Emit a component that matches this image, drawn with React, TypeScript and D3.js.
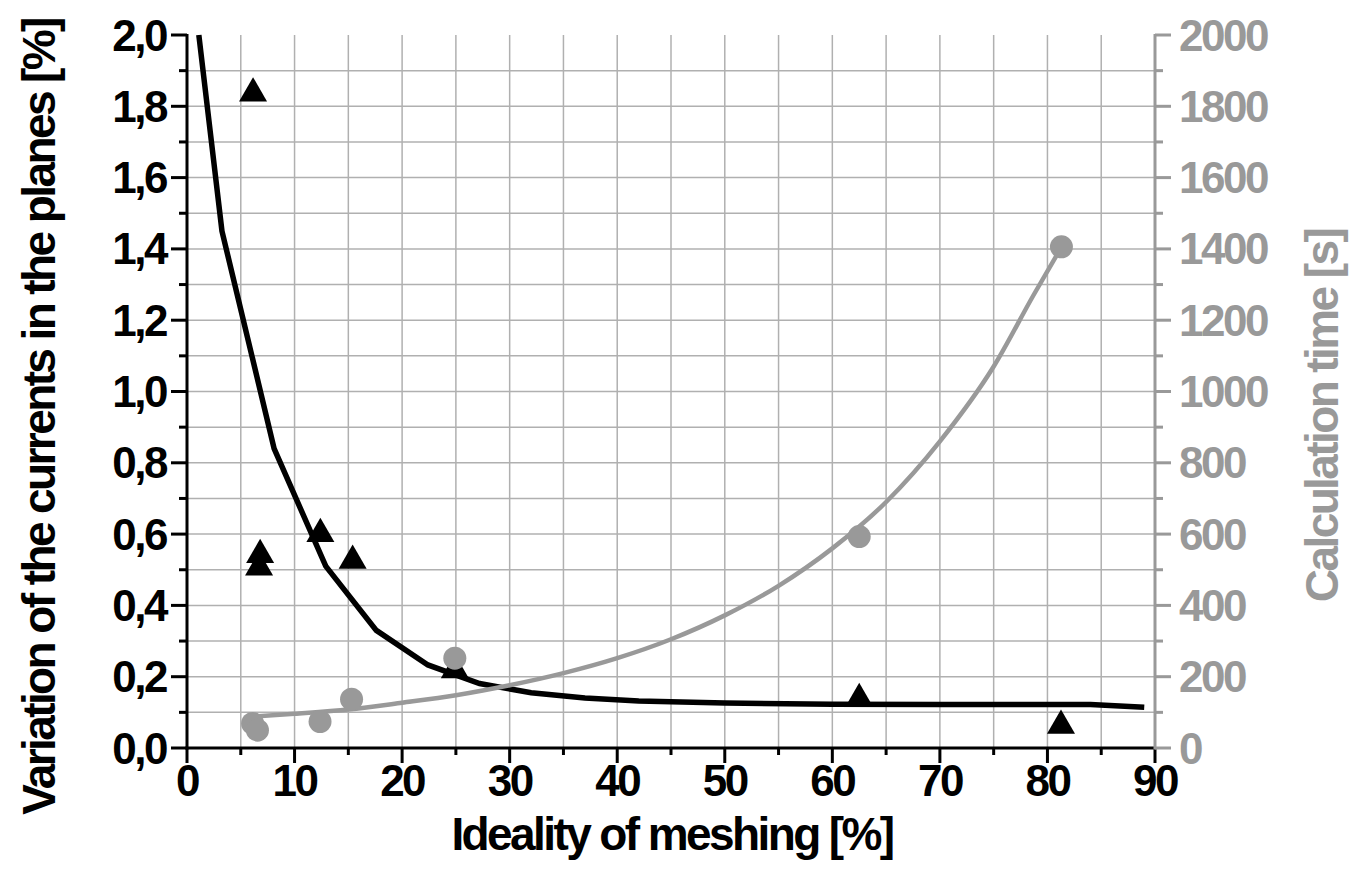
import React from "react";
import * as d3 from "d3";

// ---- data ----
const triX = [6.14, 6.8, 6.7, 12.4, 15.4, 24.9, 62.5, 81.26];
const triY = [1.842, 0.547, 0.512, 0.606, 0.531, 0.224, 0.143, 0.068];

const circX = [6.1, 6.55, 12.37, 15.3, 24.9, 62.5, 81.3];
const circY = [69, 50, 74, 137, 252, 593, 1406];

const fitBlackX = [1.1, 3.25, 8.1, 12.9, 17.6, 22.4, 27.2, 32, 37, 42, 50, 60, 70, 84, 89];
const fitBlackY = [2.0, 1.45, 0.84, 0.51, 0.33, 0.233, 0.181, 0.155, 0.14, 0.132, 0.126, 0.123, 0.122, 0.122, 0.114];

const fitGrayX = [6.1, 10, 15, 20, 25, 30, 35, 40, 45, 50, 55, 60, 65, 70, 75, 78.7, 81.3];
const fitGrayY = [88, 96, 108, 127, 148, 176, 210, 252, 305, 372, 455, 560, 690, 860, 1070, 1270, 1405];

const xTicks = [0, 10, 20, 30, 40, 50, 60, 70, 80, 90];
const yLeftTicks = [0, 0.2, 0.4, 0.6, 0.8, 1.0, 1.2, 1.4, 1.6, 1.8, 2.0];
const yRightTicks = [0, 200, 400, 600, 800, 1000, 1200, 1400, 1600, 1800, 2000];

const xTitle = "Ideality of meshing [%]";
const yLeftTitle = "Variation of the currents in the planes [%]";
const yRightTitle = "Calculation time [s]";

const W = 1353;
const H = 887;
const L = 187, R = 1155, T = 35, B = 748;
const GRAY = "#999999";
const GRID = "#b0b0b0";
const FONT = "'Liberation Sans', Arial, Helvetica, sans-serif";

export default function App() {
  const x = d3.scaleLinear().domain([0, 90]).range([L, R]);
  const yL = d3.scaleLinear().domain([0, 2]).range([B, T]);
  const yR = d3.scaleLinear().domain([0, 2000]).range([B, T]);

  const blackLine = d3
    .line<number>()
    .x((_, i) => x(fitBlackX[i]))
    .y((d) => yL(d))
    .curve(d3.curveLinear)(fitBlackY) as string;

  const grayLine = d3
    .line<number>()
    .x((_, i) => x(fitGrayX[i]))
    .y((d) => yR(d))
    .curve(d3.curveMonotoneX)(fitGrayY) as string;

  const vGrid = d3.range(5, 90, 5);
  const hGrid = d3.range(1, 20).map((v) => v / 10);
  const xMinor = d3.range(5, 90, 10);
  const yLMinor = d3.range(1, 20, 2).map((v) => v / 10);
  const yRMinor = d3.range(100, 2000, 200);

  const tri = d3.symbol().type(d3.symbolTriangle).size(340)() as string;

  const tickFont = { fontFamily: FONT, fontWeight: 700, fontSize: 44, letterSpacing: -2.5 } as const;
  const titleFont = { fontFamily: FONT, fontWeight: 700, fontSize: 46, letterSpacing: -2.6 } as const;

  return (
    <svg width={W} height={H} style={{ position: "absolute", left: 0, top: 0, background: "#fff" }}>
      <rect x={0} y={0} width={W} height={H} fill="#fff" />
      {/* grid */}
      <g stroke={GRID} strokeWidth={1.5}>
        {vGrid.map((v) => (
          <line key={"vg" + v} x1={x(v)} x2={x(v)} y1={T} y2={B} />
        ))}
        {hGrid.map((v) => (
          <line key={"hg" + v} x1={L} x2={R} y1={yL(v)} y2={yL(v)} />
        ))}
      </g>

      {/* black fit + triangles */}
      <path d={blackLine} fill="none" stroke="#000" strokeWidth={5.5} strokeLinejoin="miter" />
      {triX.map((v, i) => (
        <path key={"t" + i} d={tri} transform={`translate(${x(v)},${yL(triY[i]) + 2})`} fill="#000" />
      ))}

      {/* gray fit + circles */}
      <path d={grayLine} fill="none" stroke={GRAY} strokeWidth={4.5} />
      {circX.map((v, i) => (
        <circle key={"c" + i} cx={x(v)} cy={yR(circY[i])} r={11.5} fill={GRAY} />
      ))}

      {/* left axis */}
      <g stroke="#000" strokeWidth={3}>
        <line x1={L} x2={L} y1={T - 1} y2={B + 1.5} />
        {yLeftTicks.map((v) => (
          <line key={"ylt" + v} x1={L - 16} x2={L} y1={yL(v)} y2={yL(v)} />
        ))}
        {yLMinor.map((v) => (
          <line key={"ylm" + v} x1={L - 8} x2={L} y1={yL(v)} y2={yL(v)} />
        ))}
      </g>
      {yLeftTicks.map((v) => (
        <text key={"yll" + v} x={166} y={yL(v) + 15.5} textAnchor="end" {...tickFont} fill="#000">
          {d3.format(".1f")(v).replace(".", ",")}
        </text>
      ))}

      {/* bottom axis */}
      <g stroke="#000" strokeWidth={3}>
        <line x1={L - 1.5} x2={R} y1={B} y2={B} />
        {xTicks.map((v) => (
          <line key={"xt" + v} x1={x(v)} x2={x(v)} y1={B} y2={B + 15} />
        ))}
        {xMinor.map((v) => (
          <line key={"xm" + v} x1={x(v)} x2={x(v)} y1={B} y2={B + 7} />
        ))}
      </g>
      {xTicks.map((v) => (
        <text key={"xl" + v} x={x(v)} y={796} textAnchor="middle" {...tickFont} fill="#000">
          {v}
        </text>
      ))}

      {/* right axis */}
      <g stroke={GRAY} strokeWidth={3}>
        <line x1={R} x2={R} y1={T - 1} y2={B + 1.5} />
        {yRightTicks.map((v) => (
          <line key={"yrt" + v} x1={R} x2={R + 16} y1={yR(v)} y2={yR(v)} />
        ))}
        {yRMinor.map((v) => (
          <line key={"yrm" + v} x1={R} x2={R + 8} y1={yR(v)} y2={yR(v)} />
        ))}
      </g>
      {yRightTicks.map((v) => (
        <text key={"yrl" + v} x={1179} y={yR(v) + 15.5} textAnchor="start" {...tickFont} fill={GRAY}>
          {v}
        </text>
      ))}

      {/* titles */}
      <text x={(L + R) / 2 + 1} y={850} textAnchor="middle" {...titleFont} fill="#000">
        {xTitle}
      </text>
      <text
        transform={`translate(55,417) rotate(-90)`}
        textAnchor="middle"
        {...titleFont}
        fill="#000"
      >
        {yLeftTitle}
      </text>
      <text
        transform={`translate(1338,416) rotate(-90)`}
        textAnchor="middle"
        {...titleFont}
        fill={GRAY}
      >
        {yRightTitle}
      </text>
    </svg>
  );
}
